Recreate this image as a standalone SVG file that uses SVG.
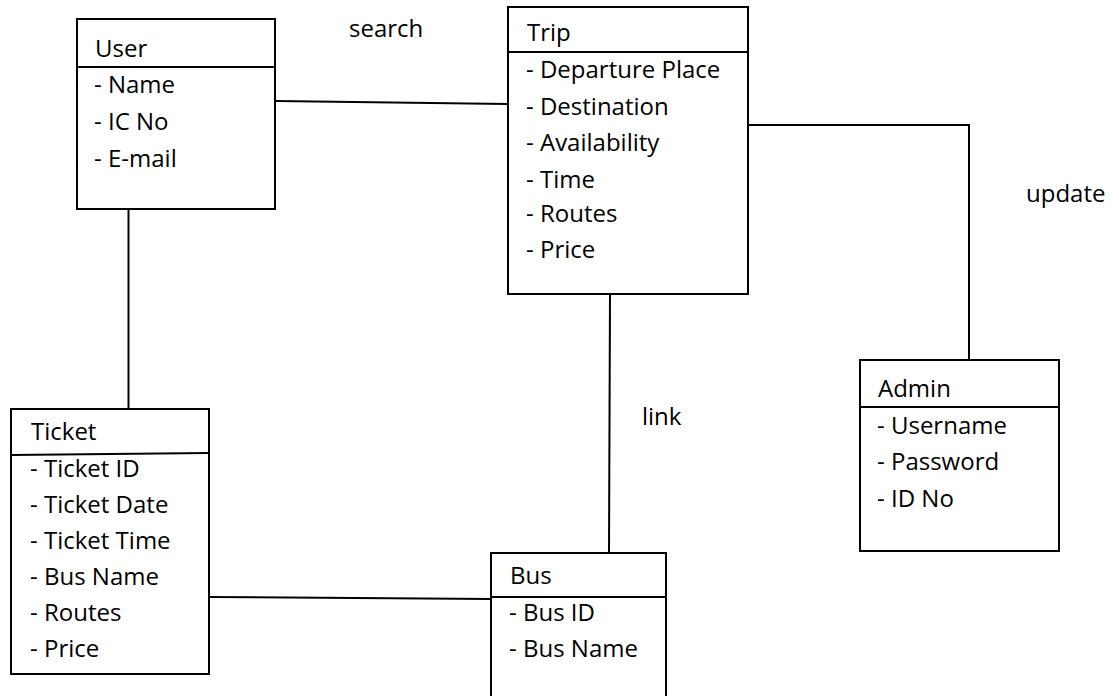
<svg xmlns="http://www.w3.org/2000/svg" width="1119" height="696" viewBox="0 0 1119 696">
<style>
.box{fill:#fff;stroke:#000;stroke-width:2}
.div{stroke:#000;stroke-width:2;fill:none}
.con{stroke:#000;stroke-width:2;fill:none}
text{font-family:"Open Sans","Noto Sans",sans-serif;font-size:24px;fill:#000}
</style>
<rect width="1119" height="696" fill="#fff"/>
<g id="connectors">
<line class="con" x1="276" y1="101" x2="508" y2="104"/>
<line class="con" x1="128.5" y1="209" x2="128.5" y2="409"/>
<polyline class="con" points="748,125 969,125 969,360"/>
<line class="con" x1="610" y1="294" x2="609" y2="553"/>
<line class="con" x1="209" y1="597" x2="491" y2="599"/>
<text x="349" y="37">search</text>
<text x="1026" y="202">update</text>
<text x="642" y="425">link</text>
</g>
<g id="user">
<rect class="box" x="77" y="19" width="198" height="190"/>
<line class="div" x1="77" y1="67" x2="275" y2="67"/>
<text x="95" y="57">User</text>
<text x="94" y="93">- Name</text>
<text x="94" y="130">- IC No</text>
<text x="94" y="167">- E-mail</text>
</g>
<g id="trip">
<rect class="box" x="508" y="7" width="240" height="287"/>
<line class="div" x1="508" y1="52" x2="748" y2="52"/>
<text x="527" y="41">Trip</text>
<text x="526" y="78">- Departure Place</text>
<text x="526" y="115">- Destination</text>
<text x="526" y="151">- Availability</text>
<text x="526" y="188">- Time</text>
<text x="526" y="222">- Routes</text>
<text x="526" y="258">- Price</text>
</g>
<g id="ticket">
<rect class="box" x="11" y="409" width="198" height="265"/>
<line class="div" x1="11" y1="455" x2="209" y2="453"/>
<text x="31" y="440">Ticket</text>
<text x="30" y="477">- Ticket ID</text>
<text x="30" y="513">- Ticket Date</text>
<text x="30" y="549">- Ticket Time</text>
<text x="30" y="585">- Bus Name</text>
<text x="30" y="621">- Routes</text>
<text x="30" y="657">- Price</text>
</g>
<g id="bus">
<rect class="box" x="491" y="553" width="175" height="150"/>
<line class="div" x1="491" y1="597" x2="666" y2="597"/>
<text x="510" y="584">Bus</text>
<text x="509" y="621">- Bus ID</text>
<text x="509" y="657">- Bus Name</text>
</g>
<g id="admin">
<rect class="box" x="860" y="360" width="199" height="191"/>
<line class="div" x1="860" y1="407" x2="1059" y2="407"/>
<text x="878" y="397">Admin</text>
<text x="877" y="434">- Username</text>
<text x="877" y="470">- Password</text>
<text x="877" y="507">- ID No</text>
</g>
</svg>
